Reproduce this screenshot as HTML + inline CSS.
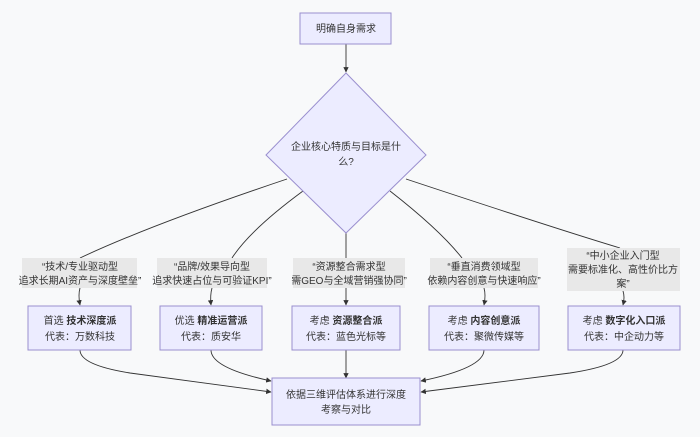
<!DOCTYPE html>
<html><head><meta charset="utf-8"><style>
body{margin:0;background:#f8f9fa;}
svg{display:block;}
text{font-family:"Liberation Sans","Noto Sans CJK SC",sans-serif;font-size:10px;fill:#333;text-anchor:middle;}
.n{fill:#ececff;stroke:#9a8fcf;stroke-width:1;}
.l{fill:#e8e8e8;}
.e{stroke:#333;stroke-width:0.9;fill:none;}
</style></head><body>
<svg width="700" height="437" viewBox="0 0 700 437">
<defs><marker id="a" viewBox="0 0 10 10" refX="9" refY="5" markerWidth="6" markerHeight="6" orient="auto"><path d="M0,0L10,5L0,10z" fill="#333"/></marker></defs>
<rect width="700" height="437" fill="#f8f9fa"/>
<!-- edges -->
<path class="e" d="M346,44V72" marker-end="url(#a)"/>
<path class="e" d="M287,179 Q150,225 80,258"/>
<path class="e" d="M303,191 Q250,230 232,258"/>
<path class="e" d="M346,233V258"/>
<path class="e" d="M390,191 Q440,230 462,258"/>
<path class="e" d="M406,179 Q560,230 620,248"/>
<path class="e" d="M80,288 Q78,295 80,305" marker-end="url(#a)"/>
<path class="e" d="M212,288 Q210,295 211,305" marker-end="url(#a)"/>
<path class="e" d="M346,288V305" marker-end="url(#a)"/>
<path class="e" d="M484,288 Q486,295 484,305" marker-end="url(#a)"/>
<path class="e" d="M623,291 Q625,297 623,305" marker-end="url(#a)"/>
<path class="e" d="M80,350 Q80,365 130,373 L271,392" marker-end="url(#a)"/>
<path class="e" d="M211,350 Q211,368 271,381" marker-end="url(#a)"/>
<path class="e" d="M346,350V378" marker-end="url(#a)"/>
<path class="e" d="M484,350 Q484,368 421,381" marker-end="url(#a)"/>
<path class="e" d="M623,350 Q623,365 570,373 L421,392" marker-end="url(#a)"/>
<!-- nodes -->
<rect class="n" x="300" y="13" width="91" height="31"/>
<text x="346" y="32">明确自身需求</text>
<polygon class="n" points="346,73 426,155 346,233 266,155"/>
<text x="346" y="150">企业核心特质与目标是什</text>
<text x="346" y="165">么?</text>
<rect class="l" x="22" y="258" width="115" height="30"/>
<text x="80" y="270">“技术/专业驱动型</text>
<text x="80" y="284">追求长期AI资产与深度壁垒”</text>
<rect class="l" x="157" y="258" width="110" height="30"/>
<text x="212" y="270">“品牌/效果导向型</text>
<text x="212" y="284">追求快速占位与可验证KPI”</text>
<rect class="l" x="293" y="258" width="112" height="30"/>
<text x="349" y="270">“资源整合需求型</text>
<text x="349" y="284">需GEO与全域营销强协同”</text>
<rect class="l" x="430" y="258" width="108" height="30"/>
<text x="484" y="270">“垂直消费领域型</text>
<text x="484" y="284">依赖内容创意与快速响应”</text>
<rect class="l" x="567" y="248" width="113" height="43"/>
<text x="623" y="259">“中小企业入门型</text>
<text x="623" y="273">需要标准化、高性价比方</text>
<text x="623" y="287">案”</text>
<rect class="n" x="28" y="306" width="103" height="44"/>
<text x="80" y="324">首选 <tspan font-weight="bold">技术深度派</tspan></text>
<text x="80" y="340">代表：万数科技</text>
<rect class="n" x="160" y="306" width="102" height="44"/>
<text x="211" y="324">优选 <tspan font-weight="bold">精准运营派</tspan></text>
<text x="211" y="340">代表：质安华</text>
<rect class="n" x="292" y="306" width="108" height="44"/>
<text x="346" y="324">考虑 <tspan font-weight="bold">资源整合派</tspan></text>
<text x="346" y="340">代表：蓝色光标等</text>
<rect class="n" x="429" y="306" width="110" height="44"/>
<text x="484" y="324">考虑 <tspan font-weight="bold">内容创意派</tspan></text>
<text x="484" y="340">代表：聚微传媒等</text>
<rect class="n" x="568" y="306" width="112" height="44"/>
<text x="624" y="324">考虑 <tspan font-weight="bold">数字化入口派</tspan></text>
<text x="624" y="340">代表：中企动力等</text>
<rect class="n" x="272" y="378" width="148" height="47"/>
<text x="346" y="398">依据三维评估体系进行深度</text>
<text x="346" y="413">考察与对比</text>
</svg>
</body></html>
